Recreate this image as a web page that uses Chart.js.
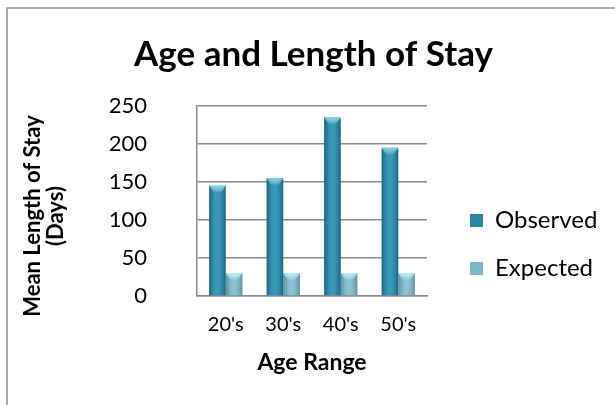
<!DOCTYPE html>
<html>
<head>
<meta charset="utf-8">
<script src="https://cdn.jsdelivr.net/npm/chart.js@4/dist/chart.umd.min.js"></script>
<style>
  html, body { margin: 0; padding: 0; background: #fff; }
  #wrap { width: 615px; height: 405px; position: relative; }
</style>
</head>
<body>
<div id="wrap"><canvas id="c" width="615" height="405"></canvas></div>
<script>
// Mean length of stay by age range
const categories = ["20's", "30's", "40's", "50's"];
const observed = [145, 155, 235, 195];
const expected = [30, 30, 30, 30];
const yTicks = [0, 50, 100, 150, 200, 250];

const FONT = 'Lato, "Open Sans", sans-serif';
const CAT_PCT = 0.58;

const obsStops = [[0, '#1d6480'], [0.3, '#3492b0'], [0.55, '#3a9cb9'], [0.85, '#297f9c'], [1, '#1b617c']];
const expStops = [[0, '#5c94a7'], [0.35, '#88c0d1'], [0.6, '#8bc3d3'], [1, '#6395a7']];
const capColors = ['rgba(120, 220, 240, 0.9)', 'rgba(185, 240, 250, 0.95)'];

// horizontal shading across each bar, located from the category scale
function barFill(stops, side) {
  return (ctx) => {
    const chart = ctx.chart;
    const xs = chart.scales.x;
    if (!chart.chartArea || !xs || ctx.type !== 'data') return stops[2][1];
    const center = xs.getPixelForValue(ctx.dataIndex);
    const w = (xs.width / categories.length) * CAT_PCT / 2;
    const x0 = side < 0 ? center - w : center;
    const g = chart.ctx.createLinearGradient(x0, 0, x0 + w, 0);
    stops.forEach(([o, c]) => g.addColorStop(o, c));
    return g;
  };
}

// light bevel on the top of every bar
const barCaps = {
  id: 'barCaps',
  afterDatasetsDraw(chart) {
    const c = chart.ctx;
    chart.data.datasets.forEach((ds, di) => {
      chart.getDatasetMeta(di).data.forEach((bar) => {
        const w = bar.width;
        const l = bar.x - w / 2, r = bar.x + w / 2, t = bar.y;
        const h = Math.min(7, Math.abs(bar.base - bar.y));
        const g = c.createLinearGradient(0, t, 0, t + h);
        g.addColorStop(0, capColors[di]);
        g.addColorStop(1, 'rgba(255,255,255,0)');
        c.save();
        c.fillStyle = g;
        c.beginPath();
        c.moveTo(l, t);
        c.lineTo(r, t);
        c.lineTo(r - w * 0.3, t + h);
        c.lineTo(l + w * 0.3, t + h);
        c.closePath();
        c.fill();
        c.restore();
      });
    });
  }
};

// outer frame of the chart object
const framePlugin = {
  id: 'frame',
  beforeDraw(chart) {
    const c = chart.ctx;
    c.save();
    c.strokeStyle = '#8a8a8a';
    c.lineWidth = 1.5;
    c.beginPath();
    c.moveTo(7, 405);
    c.lineTo(7, 8);
    c.lineTo(615, 8);
    c.stroke();
    c.restore();
  }
};

// draw a chart block shifted by (dx, dy)
function shiftDraw(obj, method, dx, dy) {
  const orig = obj[method].bind(obj);
  obj[method] = function (...args) {
    const c = this.ctx;
    c.save();
    c.translate(dx, dy);
    orig(...args);
    c.restore();
  };
}

// fixed legend column width, entries offset into the column;
// title and value-axis caption nudged into place
const LEGEND_W = 188;
const placement = {
  id: 'placement',
  afterInit(chart) {
    const lg = chart.legend;
    if (lg) {
      const fit = lg.fit.bind(lg);
      lg.fit = function () { fit(); this.width = LEGEND_W; };
      shiftDraw(lg, 'draw', 19, 54);
    }
    if (chart.titleBlock) shiftDraw(chart.titleBlock, 'draw', 6, 0);
  },
  beforeDraw(chart) {
    const y = chart.scales.y;
    if (y && !y._captionShifted) {
      shiftDraw(y, 'drawTitle', 0, 15);
      y._captionShifted = true;
    }
  }
};

new Chart(document.getElementById('c'), {
  type: 'bar',
  data: {
    labels: categories,
    datasets: [
      {
        label: 'Observed',
        data: observed,
        backgroundColor: barFill(obsStops, -1),
        legendColor: '#2b87a4',
        borderWidth: 0,
        categoryPercentage: CAT_PCT,
        barPercentage: 1.0
      },
      {
        label: 'Expected',
        data: expected,
        backgroundColor: barFill(expStops, 1),
        legendColor: '#7db7c9',
        borderWidth: 0,
        categoryPercentage: CAT_PCT,
        barPercentage: 1.0
      }
    ]
  },
  options: {
    responsive: false,
    animation: false,
    devicePixelRatio: 1,
    layout: { padding: { left: 0, right: 0, top: 0, bottom: 24 } },
    plugins: {
      title: {
        display: true,
        text: 'Age and Length of Stay',
        color: '#000',
        font: { family: FONT, size: 35, weight: 'bold', lineHeight: 1.2 },
        padding: { top: 34, bottom: 30 }
      },
      legend: {
        display: true,
        position: 'right',
        align: 'center',
        labels: {
          color: '#000',
          font: { family: FONT, size: 24 },
          boxWidth: 13,
          boxHeight: 13,
          padding: 24,
          generateLabels(chart) {
            return chart.data.datasets.map((ds, i) => ({
              text: ds.label,
              fillStyle: ds.legendColor,
              strokeStyle: ds.legendColor,
              lineWidth: 0,
              hidden: !chart.isDatasetVisible(i),
              datasetIndex: i,
              fontColor: '#000'
            }));
          }
        }
      },
      tooltip: { enabled: false }
    },
    scales: {
      x: {
        grid: { display: false, drawTicks: false },
        border: { display: true, color: '#8a8a8a', width: 1.5 },
        ticks: {
          color: '#000',
          font: { family: FONT, size: 20 },
          padding: 17
        },
        title: {
          display: true,
          text: 'Age Range',
          color: '#000',
          font: { family: FONT, size: 23, weight: 'bold' },
          padding: { top: 0, bottom: 5 }
        },
        afterFit(scale) { scale.height = 85; }
      },
      y: {
        min: 0,
        max: 250,
        afterBuildTicks(scale) { scale.ticks = yTicks.map(v => ({ value: v })); },
        grid: { color: '#8a8a8a', lineWidth: 1.5, drawTicks: false },
        border: { display: true, color: '#8a8a8a', width: 1.5 },
        ticks: {
          color: '#000',
          font: { family: FONT, size: 22 },
          padding: 50
        },
        title: {
          display: true,
          text: ['Mean Length of Stay', '(Days)'],
          color: '#000',
          font: { family: FONT, size: 22, weight: 'bold', lineHeight: 1.05 },
          padding: { top: 21, bottom: 0 }
        },
        afterFit(scale) { scale.width = 197; }
      }
    }
  },
  plugins: [framePlugin, placement, barCaps]
});
</script>
</body>
</html>
